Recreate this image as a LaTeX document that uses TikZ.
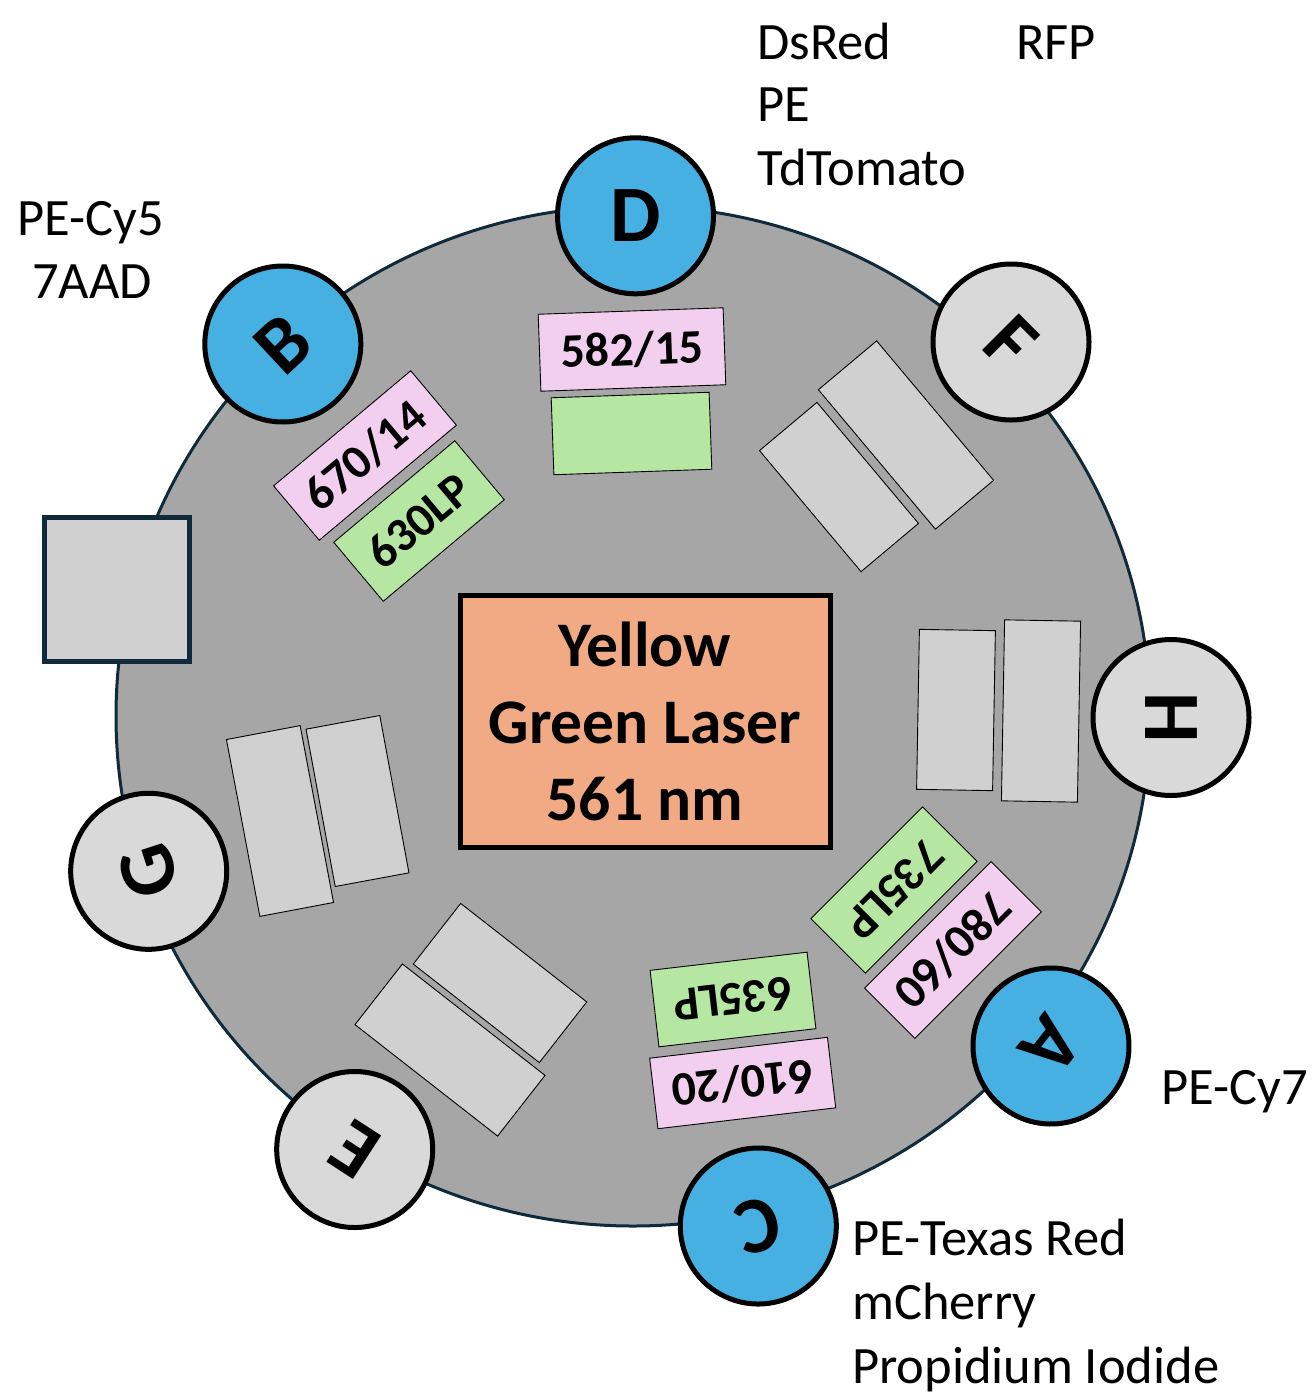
\documentclass[tikz,border=0pt]{standalone}
\usepackage{fontspec}
\setmainfont{Carlito}
\definecolor{diskgray}{HTML}{A6A6A6}
\definecolor{diskedge}{HTML}{0E2A3B}
\definecolor{pmtblue}{HTML}{45B0E1}
\definecolor{pmtgray}{HTML}{D9D9D9}
\definecolor{slotgray}{HTML}{D0D0D0}
\definecolor{bpcolor}{HTML}{F2CEEF}
\definecolor{lpcolor}{HTML}{B5E6A2}
\definecolor{lasercolor}{HTML}{F2AA84}

\begin{document}
\begin{tikzpicture}[x=1pt,y=-1pt,
  pmt/.style={circle,draw=black,line width=5pt,minimum size=156pt,inner sep=0pt,font=\fontsize{80}{80}\selectfont\bfseries},
  filter/.style={rectangle,draw=black,line width=0.9pt,inner sep=0pt,font=\fontsize{48}{48}\selectfont\bfseries},
  bp/.style={filter,fill=bpcolor,minimum width=179pt,minimum height=71pt},
  lp/.style={filter,fill=lpcolor,minimum width=158pt,minimum height=77pt},
  slot/.style={filter,fill=slotgray},
  lbl/.style={inner sep=0pt,font=\fontsize{52.5}{60}\selectfont}]
\useasboundingbox (0,0) rectangle (1316,1395);
\draw[fill=diskgray,draw=diskedge,line width=3pt] (633,716) ellipse [x radius=517pt, y radius=510pt];

% band pass and long pass filters
\node[bp,minimum width=185pt,minimum height=77pt,rotate=2] (bpD) at (632,349.5) {582/15};
\node[lp,rotate=2] (lpD) at (631.5,433.5) {};
\node[bp,rotate=40] (bpB) at (365,455.5) {670/14};
\node[lp,rotate=40] (lpB) at (419,521) {630LP};
\node[lp,rotate=-135] (lpA) at (894,890) {735LP};
\node[bp,rotate=-135] (bpA) at (953,950) {780/60};
\node[lp,rotate=-173.4] (lpC) at (733,999.5) {635LP};
\node[bp,rotate=-173.3] (bpC) at (742.7,1083) {610/20};

% empty slots
\node[slot,minimum width=182pt,minimum height=76pt,rotate=-50] (slotF1) at (906,435) {};
\node[slot,minimum width=158pt,minimum height=75pt,rotate=-50] (slotF2) at (839,487) {};
\node[slot,minimum width=76pt,minimum height=160pt,rotate=-1] (slotH1) at (956,710) {};
\node[slot,minimum width=76pt,minimum height=181pt,rotate=-1] (slotH2) at (1041,711) {};
\node[slot,minimum width=75pt,minimum height=180pt,rotate=10.7] (slotG1) at (280,821) {};
\node[slot,minimum width=75pt,minimum height=160pt,rotate=10.5] (slotG2) at (357.5,801) {};
\node[slot,minimum width=160pt,minimum height=77pt,rotate=-38] (slotE1) at (500,983) {};
\node[slot,minimum width=181pt,minimum height=77pt,rotate=-38] (slotE2) at (450,1050) {};

% detectors
\node[pmt,fill=pmtblue] (pmtD) at (635.5,215.8) {D};
\node[pmt,fill=pmtgray,rotate=-45] (pmtF) at (1011,342) {F};
\node[pmt,fill=pmtgray,rotate=-90] (pmtH) at (1171,717.5) {H};
\node[pmt,fill=pmtblue,rotate=-128] (pmtA) at (1051,1046) {A};
\node[pmt,fill=pmtblue,rotate=-166] (pmtC) at (758.3,1226) {C};
\node[pmt,fill=pmtgray,rotate=147] (pmtE) at (354.7,1149.5) {E};
\node[pmt,fill=pmtgray,rotate=108] (pmtG) at (148.7,871.3) {G};
\node[pmt,fill=pmtblue,rotate=43] (pmtB) at (282.8,344) {B};

\draw[fill=slotgray,draw=diskedge,line width=5pt] (44,517) rectangle (189,661);

\node[draw=black,line width=5pt,fill=lasercolor,minimum width=370pt,minimum height=252pt,align=center,font=\fontsize{63.5}{77}\selectfont\bfseries] (laser) at (645,721) {Yellow\\Green Laser\\561 nm};

% fluorochromes
\node[lbl,anchor=base west] (dsred) at (757,59) {DsRed};
\node[lbl,anchor=base west] (pe) at (757,121.7) {PE};
\node[lbl,anchor=base west] (tdtomato) at (757,185) {TdTomato};
\node[lbl,anchor=base west] (rfp) at (1016,59) {RFP};
\node[lbl,anchor=base] (pecy5) at (91,235) {PE-Cy5};
\node[lbl,anchor=base] (aad) at (92,298.3) {7AAD};
\node[lbl,anchor=base west] (pecy7) at (1161,1104) {PE-Cy7};
\node[lbl,anchor=base west] (texasred) at (852,1255) {PE-Texas Red};
\node[lbl,anchor=base west] (mcherry) at (852,1319.3) {mCherry};
\node[lbl,anchor=base west] (pi) at (852,1383.3) {Propidium Iodide};

\end{tikzpicture}
\end{document}
